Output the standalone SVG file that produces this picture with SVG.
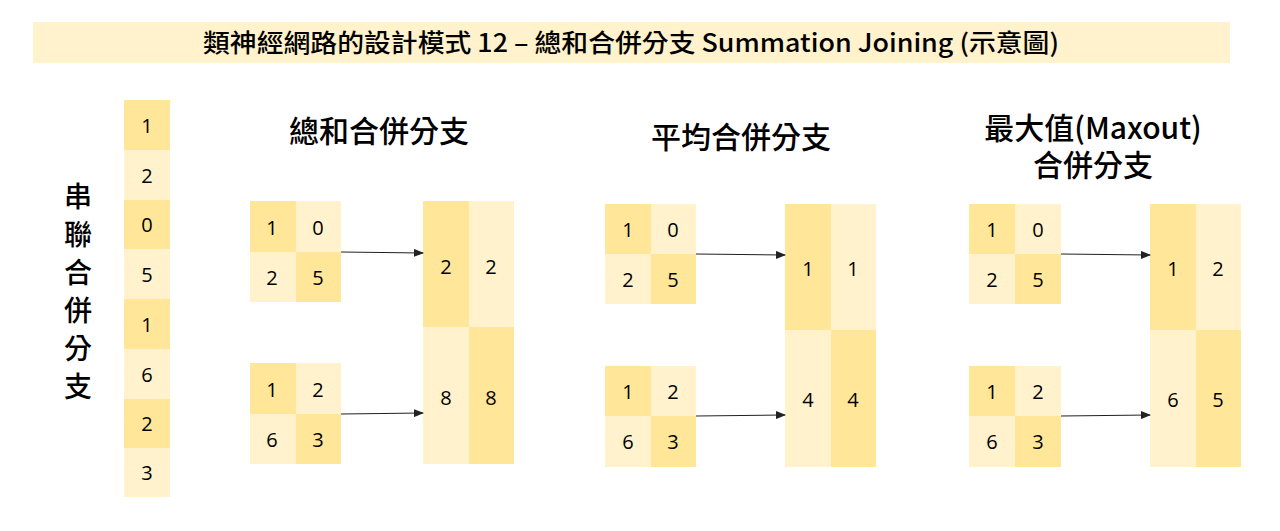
<svg xmlns="http://www.w3.org/2000/svg" width="1280" height="531" viewBox="0 0 1280 531">
<defs>
<style>
.d{fill:#FFE699}
.l{fill:#FFF2CC}
.n{font-family:"Open Sans","Noto Sans",sans-serif;font-size:20px;fill:#000;text-anchor:middle;dominant-baseline:central}
.h{font-family:"Noto Sans CJK TC","Noto Sans",sans-serif;font-size:30px;font-weight:500;fill:#000;text-anchor:middle}
.v{font-family:"Noto Sans CJK TC",sans-serif;font-size:28px;font-weight:500;fill:#000;text-anchor:middle}
.c{stroke:#222;stroke-width:1.2;fill:none;marker-end:url(#ah)}
</style>
<marker id="ah" markerWidth="10" markerHeight="8" refX="9" refY="4" orient="auto" markerUnits="userSpaceOnUse">
<path d="M0,0 L10,4 L0,8 z" fill="#222"/>
</marker>
</defs>
<rect width="1280" height="531" fill="#fff"/>
<g id="title">
<rect x="33" y="22" width="1197" height="41" class="l"/>
<text x="631" y="52" font-family="'Noto Sans CJK TC','Noto Sans',sans-serif" font-size="25" font-weight="500" text-anchor="middle" textLength="856" lengthAdjust="spacingAndGlyphs">類神經網路的設計模式 12 – 總和合併分支 Summation Joining (示意圖)</text>
</g>
<g id="concat-label">
<text class="v" x="78" y="207">串</text>
<text class="v" x="78" y="245">聯</text>
<text class="v" x="78" y="283">合</text>
<text class="v" x="78" y="321">併</text>
<text class="v" x="78" y="359">分</text>
<text class="v" x="78" y="397">支</text>
</g>
<g id="concat-column">
<rect x="124" y="100" width="46" height="50" class="d"/>
<rect x="124" y="150" width="46" height="50" class="l"/>
<rect x="124" y="200" width="46" height="49" class="d"/>
<rect x="124" y="249" width="46" height="50" class="l"/>
<rect x="124" y="299" width="46" height="50" class="d"/>
<rect x="124" y="349" width="46" height="50" class="l"/>
<rect x="124" y="399" width="46" height="49" class="d"/>
<rect x="124" y="448" width="46" height="49" class="l"/>
<text class="n" x="147" y="125">1</text>
<text class="n" x="147" y="175">2</text>
<text class="n" x="147" y="224">0</text>
<text class="n" x="147" y="274">5</text>
<text class="n" x="147" y="324">1</text>
<text class="n" x="147" y="374">6</text>
<text class="n" x="147" y="423">2</text>
<text class="n" x="147" y="472">3</text>
</g>

<g id="sum-heading"><text class="h" x="379" y="142">總和合併分支</text></g>
<g id="sum-in1">
<rect x="250" y="201" width="46" height="51" class="d"/>
<rect x="296" y="201" width="45" height="51" class="l"/>
<rect x="250" y="252" width="46" height="50" class="l"/>
<rect x="296" y="252" width="45" height="50" class="d"/>
<text class="n" x="272" y="227">1</text><text class="n" x="318" y="227">0</text>
<text class="n" x="272" y="277">2</text><text class="n" x="318" y="277">5</text>
</g>
<g id="sum-in2">
<rect x="250" y="363" width="46" height="51" class="d"/>
<rect x="296" y="363" width="45" height="51" class="l"/>
<rect x="250" y="414" width="46" height="50" class="l"/>
<rect x="296" y="414" width="45" height="50" class="d"/>
<text class="n" x="272" y="389">1</text><text class="n" x="318" y="389">2</text>
<text class="n" x="272" y="439">6</text><text class="n" x="318" y="439">3</text>
</g>
<g id="sum-out">
<rect x="423" y="201" width="46" height="126" class="d"/>
<rect x="469" y="201" width="45" height="126" class="l"/>
<rect x="423" y="327" width="46" height="137" class="l"/>
<rect x="469" y="327" width="45" height="137" class="d"/>
<text class="n" x="446" y="266">2</text><text class="n" x="491" y="266">2</text>
<text class="n" x="446" y="397">8</text><text class="n" x="491" y="397">8</text>
</g>

<g id="avg-heading"><text class="h" x="741" y="148">平均合併分支</text></g>
<g id="avg-in1">
<rect x="605" y="204" width="46" height="50" class="d"/>
<rect x="651" y="204" width="45" height="50" class="l"/>
<rect x="605" y="254" width="46" height="50" class="l"/>
<rect x="651" y="254" width="45" height="50" class="d"/>
<text class="n" x="628" y="229">1</text><text class="n" x="673" y="229">0</text>
<text class="n" x="628" y="279">2</text><text class="n" x="673" y="279">5</text>
</g>
<g id="avg-in2">
<rect x="605" y="366" width="46" height="50" class="d"/>
<rect x="651" y="366" width="45" height="50" class="l"/>
<rect x="605" y="416" width="46" height="51" class="l"/>
<rect x="651" y="416" width="45" height="51" class="d"/>
<text class="n" x="628" y="391">1</text><text class="n" x="673" y="391">2</text>
<text class="n" x="628" y="441">6</text><text class="n" x="673" y="441">3</text>
</g>
<g id="avg-out">
<rect x="785" y="204" width="46" height="126" class="d"/>
<rect x="831" y="204" width="45" height="126" class="l"/>
<rect x="785" y="330" width="46" height="137" class="l"/>
<rect x="831" y="330" width="45" height="137" class="d"/>
<text class="n" x="808" y="268">1</text><text class="n" x="853" y="268">1</text>
<text class="n" x="808" y="399">4</text><text class="n" x="853" y="399">4</text>
</g>

<g id="max-heading">
<text class="h" x="1093" y="139">最大值(Maxout)</text>
<text class="h" x="1093" y="176">合併分支</text>
</g>
<g id="max-in1">
<rect x="969" y="204" width="46" height="50" class="d"/>
<rect x="1015" y="204" width="46" height="50" class="l"/>
<rect x="969" y="254" width="46" height="50" class="l"/>
<rect x="1015" y="254" width="46" height="50" class="d"/>
<text class="n" x="992" y="229">1</text><text class="n" x="1038" y="229">0</text>
<text class="n" x="992" y="279">2</text><text class="n" x="1038" y="279">5</text>
</g>
<g id="max-in2">
<rect x="969" y="366" width="46" height="50" class="d"/>
<rect x="1015" y="366" width="46" height="50" class="l"/>
<rect x="969" y="416" width="46" height="51" class="l"/>
<rect x="1015" y="416" width="46" height="51" class="d"/>
<text class="n" x="992" y="391">1</text><text class="n" x="1038" y="391">2</text>
<text class="n" x="992" y="441">6</text><text class="n" x="1038" y="441">3</text>
</g>
<g id="max-out">
<rect x="1150" y="204" width="46" height="126" class="d"/>
<rect x="1196" y="204" width="45" height="126" class="l"/>
<rect x="1150" y="330" width="46" height="137" class="l"/>
<rect x="1196" y="330" width="45" height="137" class="d"/>
<text class="n" x="1173" y="268">1</text><text class="n" x="1218" y="268">2</text>
<text class="n" x="1173" y="399">6</text><text class="n" x="1218" y="399">5</text>
</g>

<g id="connectors">
<line class="c" x1="341" y1="252" x2="423" y2="253"/>
<line class="c" x1="341" y1="414" x2="423" y2="413"/>
<line class="c" x1="696" y1="254" x2="785" y2="255"/>
<line class="c" x1="696" y1="416" x2="785" y2="415"/>
<line class="c" x1="1061" y1="254" x2="1150" y2="255"/>
<line class="c" x1="1061" y1="416" x2="1150" y2="415"/>
</g>
</svg>
